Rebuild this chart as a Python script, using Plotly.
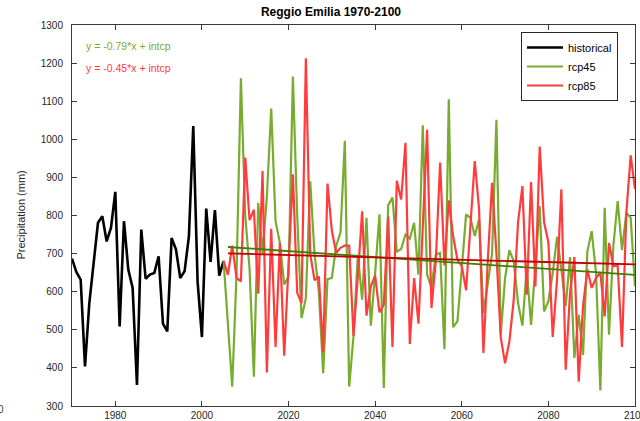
import numpy as np
import plotly.graph_objects as go

# ---------------- data ----------------
hist_years = list(range(1970, 2006))
hist_vals = [687, 652, 632, 404, 570, 684, 781, 798, 732, 768,
             862, 509, 785, 658, 610, 355, 763, 634, 645, 649,
             693, 516, 496, 741, 711, 636, 654, 746, 1035, 627,
             481, 818, 678, 814, 642, 681]

scen_years = list(range(2006, 2101))
rcp45_vals = [520, 351, 650, 1160, 800, 660, 377, 833, 700, 850,
              1081, 785, 728, 619, 640, 1165, 800, 531, 583, 890,
              700, 600, 386, 633, 636, 720, 756, 996, 351, 483,
              697, 579, 794, 511, 650, 803, 347, 827, 847, 705,
              712, 750, 739, 781, 645, 1037, 645, 610, 697, 702,
              449, 1105, 507, 522, 660, 803, 794, 746, 790, 544,
              620, 700, 1051, 487, 636, 709, 680, 570, 511, 662,
              513, 658, 825, 548, 575, 649, 744, 658, 562, 691,
              426, 540, 434, 706, 759, 649, 341, 820, 487, 720,
              838, 709, 807, 794, 614]
rcp85_vals = [645, 721, 636, 627, 952, 788, 815, 595, 917, 388,
              765, 455, 728, 432, 660, 908, 597, 570, 1213, 700,
              630, 640, 441, 884, 760, 702, 715, 721, 721, 484,
              640, 811, 537, 614, 642, 546, 566, 797, 455, 891,
              842, 991, 463, 636, 516, 760, 1025, 557, 680, 939,
              669, 840, 746, 684, 667, 604, 760, 943, 816, 439,
              680, 886, 700, 480, 412, 470, 579, 783, 877, 592,
              888, 614, 981, 783, 730, 481, 632, 869, 395, 597,
              691, 364, 562, 658, 610, 636, 651, 535, 728, 667,
              669, 455, 807, 958, 869]

series_names = ["historical", "rcp45", "rcp85"]
trend_labels = ["y = -0.79*x + intcp", "y = -0.45*x + intcp"]
x_ticks = [1980, 2000, 2020, 2040, 2060, 2080, 2100]
y_ticks = list(range(300, 1301, 100))

# ---------------- style ----------------
C_HIST = "#000000"
C_45 = "#77AC30"
C_85 = "#FF3C3C"
C_45_TR = "#3F7F00"
C_85_TR = "#C00000"
AX = "#3a3a3a"
FONT = "Arial, Liberation Sans, sans-serif"

fig = go.Figure()

fig.add_trace(go.Scatter(x=hist_years, y=hist_vals, mode="lines",
                         line=dict(color=C_HIST, width=2.6), name=series_names[0]))
fig.add_trace(go.Scatter(x=[hist_years[-1]] + scen_years, y=[hist_vals[-1]] + rcp45_vals,
                         mode="lines", line=dict(color=C_45, width=2.2), name=series_names[1]))
fig.add_trace(go.Scatter(x=[hist_years[-1]] + scen_years, y=[hist_vals[-1]] + rcp85_vals,
                         mode="lines", line=dict(color=C_85, width=2.2), name=series_names[2]))

xs = np.array(scen_years, dtype=float)
for vals, col in [(rcp45_vals, C_45_TR), (rcp85_vals, C_85_TR)]:
    p = np.polyfit(xs, np.array(vals, dtype=float), 1)
    fig.add_trace(go.Scatter(x=[xs[0], xs[-1]], y=list(np.polyval(p, [xs[0], xs[-1]])),
                             mode="lines", line=dict(color=col, width=1.8),
                             showlegend=False, hoverinfo="skip"))

L, R, T, B = 72, 5, 25, 15
W, H = 640, 421
pw, ph = W - L - R, H - T - B

def px_x(px):
    return (px - L) / pw

def px_y(py):
    return (H - B - py) / ph

fig.add_annotation(text=trend_labels[0], xref="paper", yref="paper",
                   x=px_x(84), y=px_y(46), xanchor="left", yanchor="middle",
                   showarrow=False, font=dict(family=FONT, size=10.5, color=C_45))
fig.add_annotation(text=trend_labels[1], xref="paper", yref="paper",
                   x=px_x(84), y=px_y(68), xanchor="left", yanchor="middle",
                   showarrow=False, font=dict(family=FONT, size=10.5, color=C_85))
fig.add_annotation(text="Precipitation (mm)", xref="paper", yref="paper",
                   x=px_x(20), y=0.5, xanchor="center", yanchor="middle", textangle=-90,
                   showarrow=False, font=dict(family=FONT, size=11, color="#262626"))
fig.add_annotation(text="0", xref="paper", yref="paper",
                   x=px_x(1), y=px_y(409), xanchor="center", yanchor="middle",
                   showarrow=False, font=dict(family=FONT, size=10, color="#404040"))

fig.update_layout(
    width=W, height=H,
    margin=dict(l=L, r=R, t=T, b=B, autoexpand=False),
    paper_bgcolor="white", plot_bgcolor="white",
    font=dict(family=FONT, size=10, color="#262626"),
    title=dict(text="<b>Reggio Emilia 1970-2100</b>", x=331 / W, xref="container",
               xanchor="center", y=1 - 12 / H, yanchor="middle",
               font=dict(family=FONT, size=12, color="#000000")),
    showlegend=True,
    legend=dict(x=px_x(521), y=px_y(32), xanchor="left", yanchor="top",
                bgcolor="white", bordercolor="#262626", borderwidth=1,
                font=dict(family=FONT, size=11, color="#000000"),
                itemwidth=36, tracegroupgap=0),
)
fig.update_xaxes(range=[1970, 2100], tickvals=x_ticks, ticks="inside", ticklen=5,
                 tickcolor=AX, showline=True, linecolor=AX, linewidth=1, mirror="ticks",
                 showgrid=False, zeroline=False, ticklabeloverflow="allow",
                 tickfont=dict(size=10, color="#262626"))
fig.update_yaxes(range=[300, 1300], tickvals=y_ticks, ticks="inside", ticklen=5,
                 tickcolor=AX, showline=True, linecolor=AX, linewidth=1, mirror="ticks",
                 showgrid=False, zeroline=False, ticklabelstandoff=6,
                 tickfont=dict(size=10, color="#262626"))

fig.write_html("out.html", config={"displayModeBar": False},
               post_script="document.body.style.margin='0';document.body.style.overflow='hidden';")
